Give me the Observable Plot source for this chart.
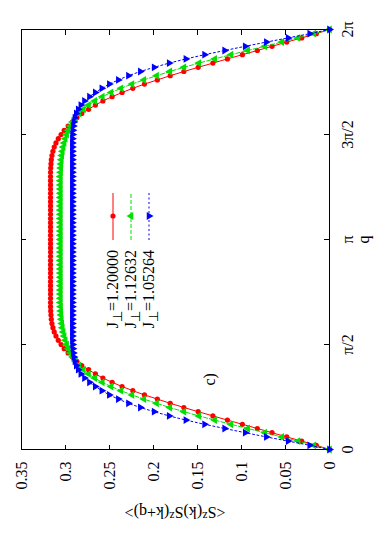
<!DOCTYPE html>
<html><head><meta charset="utf-8">
<script src="https://cdn.jsdelivr.net/npm/d3@7"></script>
<script src="https://cdn.jsdelivr.net/npm/@observablehq/plot@0.6"></script>
<style>
html,body{margin:0;padding:0;background:#fff;overflow:hidden;width:374px;height:534px}
#rot{position:absolute;left:0;top:0;width:534px;height:374px;transform-origin:0 0;transform:translateY(534px) rotate(-90deg);font-family:"Liberation Serif",serif;font-size:16px;color:#000}
.leg{position:absolute;left:0;width:284px;text-align:right;height:18px;line-height:18px;white-space:nowrap}
.sub{position:relative;top:0.35em;font-size:0.8em}
.sup{position:relative;top:-0.45em;font-size:0.75em}
#ylab{position:absolute;white-space:nowrap;transform:translate(-50%,-50%) rotate(-90deg)}
svg.sample{position:absolute;overflow:visible}
</style></head><body><div id="rot"></div>
<script>
// q grid: 101 points over [0, 2π]
const N = 100;
const qTicks = [0, Math.PI / 2, Math.PI, 3 * Math.PI / 2, 2 * Math.PI];
const qTickLabels = ["0", "π/2", "π", "3π/2", "2π"];
const vTicks = [0, 0.05, 0.1, 0.15, 0.2, 0.25, 0.3, 0.35];
const vTickLabels = ["0", "0.05", "0.1", "0.15", "0.2", "0.25", "0.3", "0.35"];
const seriesNames = ["1.20000", "1.12632", "1.05264"];

const red = [0, 0.0150, 0.0316, 0.0486, 0.0653, 0.0820, 0.0990, 0.1160, 0.1325, 0.1492, 0.1655,
  0.1810, 0.1956, 0.2103, 0.2235, 0.2357, 0.2470, 0.2575, 0.2660, 0.2737, 0.2815,
  0.2870, 0.2920, 0.2970, 0.3015, 0.3050, 0.3082, 0.3108, 0.3128, 0.3143, 0.3154,
  0.3161, 0.3165, 0.3168, 0.3170, 0.3170, 0.3170, 0.3170, 0.3170, 0.3170, 0.3170,
  0.3170, 0.3170, 0.3170, 0.3170, 0.3170, 0.3170, 0.3170, 0.3170, 0.3170, 0.3170,
  0.3170, 0.3170, 0.3170, 0.3170, 0.3170, 0.3170, 0.3170, 0.3170, 0.3170, 0.3170,
  0.3170, 0.3170, 0.3170, 0.3170, 0.3170, 0.3170, 0.3168, 0.3165, 0.3161, 0.3154,
  0.3143, 0.3128, 0.3108, 0.3082, 0.3050, 0.3015, 0.2970, 0.2920, 0.2870, 0.2815,
  0.2737, 0.2660, 0.2575, 0.2470, 0.2357, 0.2235, 0.2103, 0.1956, 0.1810, 0.1655,
  0.1492, 0.1325, 0.1160, 0.0990, 0.0820, 0.0653, 0.0486, 0.0316, 0.0150, 0];

const green = [0, 0.0178, 0.0358, 0.0542, 0.0735, 0.0930, 0.1120, 0.1305, 0.1485, 0.1655, 0.1815,
  0.1965, 0.2110, 0.2245, 0.2370, 0.2482, 0.2582, 0.2668, 0.2738, 0.2797, 0.2847,
  0.2887, 0.2920, 0.2946, 0.2968, 0.2987, 0.3003, 0.3016, 0.3027, 0.3036, 0.3043,
  0.3048, 0.3052, 0.3055, 0.3057, 0.3060, 0.3060, 0.3060, 0.3060, 0.3060, 0.3060,
  0.3060, 0.3060, 0.3060, 0.3060, 0.3060, 0.3060, 0.3060, 0.3060, 0.3060, 0.3060,
  0.3060, 0.3060, 0.3060, 0.3060, 0.3060, 0.3060, 0.3060, 0.3060, 0.3060, 0.3060,
  0.3060, 0.3060, 0.3060, 0.3060, 0.3060, 0.3057, 0.3055, 0.3052, 0.3048, 0.3043,
  0.3036, 0.3027, 0.3016, 0.3003, 0.2987, 0.2968, 0.2946, 0.2920, 0.2887, 0.2847,
  0.2797, 0.2738, 0.2668, 0.2582, 0.2482, 0.2370, 0.2245, 0.2110, 0.1965, 0.1815,
  0.1655, 0.1485, 0.1305, 0.1120, 0.0930, 0.0735, 0.0542, 0.0358, 0.0178, 0];

const blue = [0, 0.0225, 0.0470, 0.0718, 0.0958, 0.1192, 0.1420, 0.1632, 0.1822, 0.1993, 0.2150,
  0.2285, 0.2400, 0.2502, 0.2587, 0.2662, 0.2728, 0.2785, 0.2826, 0.2856, 0.2878,
  0.2893, 0.2904, 0.2911, 0.2916, 0.2919, 0.2921, 0.2922, 0.2922, 0.2922, 0.2922,
  0.2922, 0.2922, 0.2922, 0.2922, 0.2922, 0.2922, 0.2922, 0.2922, 0.2922, 0.2922,
  0.2922, 0.2922, 0.2922, 0.2922, 0.2922, 0.2922, 0.2922, 0.2922, 0.2922, 0.2922,
  0.2922, 0.2922, 0.2922, 0.2922, 0.2922, 0.2922, 0.2922, 0.2922, 0.2922, 0.2922,
  0.2922, 0.2922, 0.2922, 0.2922, 0.2922, 0.2922, 0.2922, 0.2922, 0.2922, 0.2922,
  0.2922, 0.2922, 0.2922, 0.2921, 0.2919, 0.2916, 0.2911, 0.2904, 0.2893, 0.2878,
  0.2856, 0.2826, 0.2785, 0.2728, 0.2662, 0.2587, 0.2502, 0.2400, 0.2285, 0.2150,
  0.1993, 0.1822, 0.1632, 0.1420, 0.1192, 0.0958, 0.0718, 0.0470, 0.0225, 0];

const panelLabel = {text: "c)", q: 1.05, v: 0.136};

const styles = [
  {values: red, color: "#ff0000", dash: null, symbol: "circle", r: 2.6, rotate: 0},
  {values: green, color: "#00e000", dash: "4,2", symbol: "triangle", r: 2.9, rotate: 0},
  {values: blue, color: "#0000ff", dash: "2,2.5", symbol: "triangle", r: 2.9, rotate: 180}
];

const W = 534, H = 374, mL = 84, mR = 30, mT = 21, mB = 45;
const innerW = W - mL - mR, innerH = H - mT - mB;
const qFmt = new Map(qTicks.map((d, i) => [d, qTickLabels[i]]));
const vFmt = new Map(vTicks.map((d, i) => [d, vTickLabels[i]]));

const seriesMarks = styles.flatMap(s => {
  const rows = s.values.map((v, k) => ({q: 2 * Math.PI * k / N, v}));
  return [
    Plot.line(rows, {x: "q", y: "v", stroke: s.color, strokeWidth: 1, strokeDasharray: s.dash}),
    Plot.dot(rows, {x: "q", y: "v", fill: s.color, r: s.r, symbol: s.symbol, rotate: s.rotate})
  ];
});

const chart = Plot.plot({
  width: W, height: H,
  marginLeft: mL, marginRight: mR, marginTop: mT, marginBottom: mB,
  style: {fontFamily: '"Liberation Serif", serif', fontSize: "16px", background: "white", overflow: "visible", color: "black"},
  x: {domain: [0, 2 * Math.PI]},
  y: {domain: [0, 0.35]},
  marks: [
    Plot.axisX({ticks: qTicks, tickFormat: d => qFmt.get(d), tickSize: 0, tickPadding: 12, label: null}),
    Plot.axisY({ticks: vTicks, tickFormat: d => vFmt.get(d), tickSize: 0, tickPadding: 12, label: null}),
    Plot.tickX(qTicks, {x: d => d, insetTop: innerH - 5, stroke: "black"}),
    Plot.tickX(qTicks, {x: d => d, insetBottom: innerH - 5, stroke: "black"}),
    Plot.tickY(vTicks, {y: d => d, insetRight: innerW - 5, stroke: "black"}),
    Plot.tickY(vTicks, {y: d => d, insetLeft: innerW - 5, stroke: "black"}),
    ...seriesMarks,
    Plot.frame({stroke: "black", strokeWidth: 1}),
    Plot.text([panelLabel], {x: "q", y: "v", text: "text", fontSize: 16}),
    Plot.text(["q"], {frameAnchor: "bottom", dy: 34, lineAnchor: "middle", text: d => d, fontSize: 16})
  ]
});
const rot = document.getElementById("rot");
rot.appendChild(chart);

// y-axis title
const yl = document.createElement("div");
yl.id = "ylab";
yl.style.left = "22px";
yl.style.top = (mT + innerH / 2) + "px";
yl.innerHTML = '&lt;S<span class="sup">z</span>(k)S<span class="sup">z</span>(k+q)&gt;';
rot.appendChild(yl);

// legend (key inside the plot, gnuplot style)
const legRows = [113, 131, 149];
styles.forEach((s, i) => {
  const t = document.createElement("div");
  t.className = "leg";
  t.style.top = (legRows[i] - 9) + "px";
  t.innerHTML = 'J<span class="sub">⊥</span>=' + seriesNames[i];
  rot.appendChild(t);
  const svg = d3.create("svg").attr("class", "sample")
    .attr("width", 47).attr("height", 10)
    .style("left", "294px").style("top", (legRows[i] - 5) + "px");
  svg.append("line").attr("x1", 0).attr("x2", 47).attr("y1", 5).attr("y2", 5)
    .attr("stroke", s.color).attr("stroke-width", 1)
    .attr("stroke-dasharray", s.dash);
  const sym = s.symbol === "circle" ? d3.symbolCircle : d3.symbolTriangle;
  svg.append("path").attr("d", d3.symbol(sym, Math.PI * s.r * s.r)())
    .attr("transform", `translate(24,5) rotate(${s.rotate})`).attr("fill", s.color);
  rot.appendChild(svg.node());
});
</script></body></html>
